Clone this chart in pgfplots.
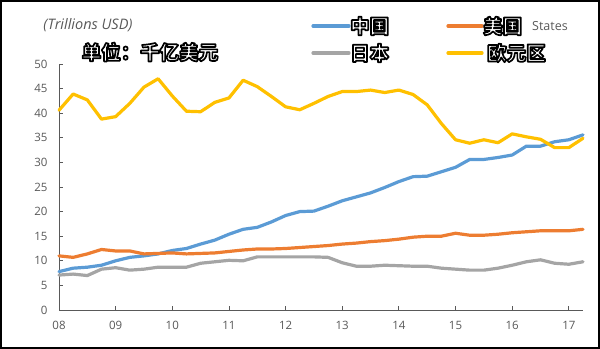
\documentclass[border=0pt]{standalone}
\usepackage{fontspec}
\setmainfont{Open Sans}
\newfontfamily\cjk{Noto Sans CJK SC}
\usepackage{pgfplots}
\pgfplotsset{compat=1.18}
\usepackage{pgfplotstable}
\definecolor{cblue}{HTML}{5B9BD5}
\definecolor{corange}{HTML}{ED7D31}
\definecolor{cgray}{HTML}{A5A5A5}
\definecolor{cyellow}{HTML}{FFC000}
\definecolor{txt}{HTML}{595959}
\newcommand\outl[1]{{\cjk\bfseries\fontsize{19.5bp}{22bp}\selectfont\color{white}\special{pdf:literal direct 0 G 1.7 w 1 j 2 Tr}#1\special{pdf:literal direct 0 Tr}}}

\pgfplotstableread{
q cn us jp eu
0 7.8 11.0 7.1 40.6
1 8.5 10.7 7.3 43.9
2 8.7 11.4 7.0 42.7
3 9.1 12.3 8.3 38.8
4 10.0 12.0 8.6 39.3
5 10.7 12.0 8.1 42.0
6 11.0 11.4 8.3 45.3
7 11.4 11.5 8.7 47.0
8 12.1 11.6 8.7 43.5
9 12.5 11.4 8.7 40.4
10 13.4 11.5 9.5 40.3
11 14.2 11.6 9.8 42.2
12 15.4 11.9 10.1 43.1
13 16.4 12.2 10.0 46.7
14 16.8 12.4 10.8 45.4
15 17.9 12.4 10.8 43.4
16 19.2 12.5 10.8 41.3
17 20.0 12.7 10.8 40.7
18 20.1 12.9 10.8 42.0
19 21.1 13.1 10.7 43.4
20 22.2 13.4 9.6 44.4
21 23.0 13.6 8.9 44.4
22 23.8 13.9 8.9 44.7
23 24.9 14.1 9.1 44.2
24 26.1 14.4 9.0 44.7
25 27.1 14.8 8.9 43.8
26 27.2 15.0 8.9 41.7
27 28.1 15.0 8.5 37.9
28 29.0 15.6 8.3 34.6
29 30.6 15.2 8.1 33.9
30 30.6 15.2 8.1 34.6
31 31.0 15.4 8.5 34.0
32 31.5 15.7 9.1 35.8
33 33.3 15.9 9.8 35.2
34 33.3 16.1 10.2 34.7
35 34.2 16.1 9.5 33.0
36 34.6 16.1 9.3 33.0
37 35.6 16.4 9.8 34.9
}\data

\begin{document}
\begin{tikzpicture}
\path[use as bounding box] (0,0) rectangle (600bp,349bp);
\begin{axis}[
  at={(59bp,39bp)}, anchor=south west,
  scale only axis, width=524bp, height=246bp,
  xmin=0, xmax=37, ymin=0, ymax=50,
  axis lines=left,
  axis line style={-, draw=black!65, line width=1bp},
  tick align=inside, major tick length=4bp,
  tick style={draw=black!65, line width=0.8bp},
  xtick={0,4,...,36},
  xticklabels={08,09,10,11,12,13,14,15,16,17},
  ytick={0,5,...,50},
  tick label style={font=\fontsize{11.5bp}{13bp}\selectfont, text=txt},
  /pgf/number format/assume math mode=true,
  xticklabel style={yshift=-8bp},
  yticklabel style={xshift=-8bp},
  clip=false,
  every axis plot/.append style={line width=3.2bp, line join=round, line cap=round, no marks},
]
\addplot[cblue] table[x=q, y=cn] {\data};
\addplot[corange] table[x=q, y=us] {\data};
\addplot[cgray] table[x=q, y=jp] {\data};
\addplot[cyellow] table[x=q, y=eu] {\data};
\end{axis}
% titles
\node[font=\itshape\fontsize{14.5bp}{17bp}\selectfont, text=txt] at (88bp,323.5bp) {(Trillions USD)};
\node at (150bp,297bp) {\outl{单位：千亿美元}};
% legend
\draw[cblue, line width=3.2bp, line cap=round] (313bp,323bp) -- (349bp,323bp);
\node[anchor=west, inner sep=0pt] at (350bp,323bp) {\outl{中国}};
\draw[corange, line width=3.2bp, line cap=round] (448bp,323bp) -- (482bp,323bp);
\node[anchor=west, inner sep=0pt] at (483bp,323bp) {\outl{美国}};
\node[anchor=west, inner sep=0pt, text=txt, font=\fontsize{12.5bp}{14bp}\selectfont] at (532bp,323bp) {States};
\draw[cgray, line width=3.2bp, line cap=round] (313bp,296bp) -- (349bp,296bp);
\node[anchor=west, inner sep=0pt] at (350bp,296bp) {\outl{日本}};
\draw[cyellow, line width=3.2bp, line cap=round] (448bp,296bp) -- (482bp,296bp);
\node[anchor=west, inner sep=0pt] at (487bp,296bp) {\outl{欧元区}};
\draw[black, line width=2bp] (1bp,1bp) rectangle (599bp,348bp);
\end{tikzpicture}
\end{document}
